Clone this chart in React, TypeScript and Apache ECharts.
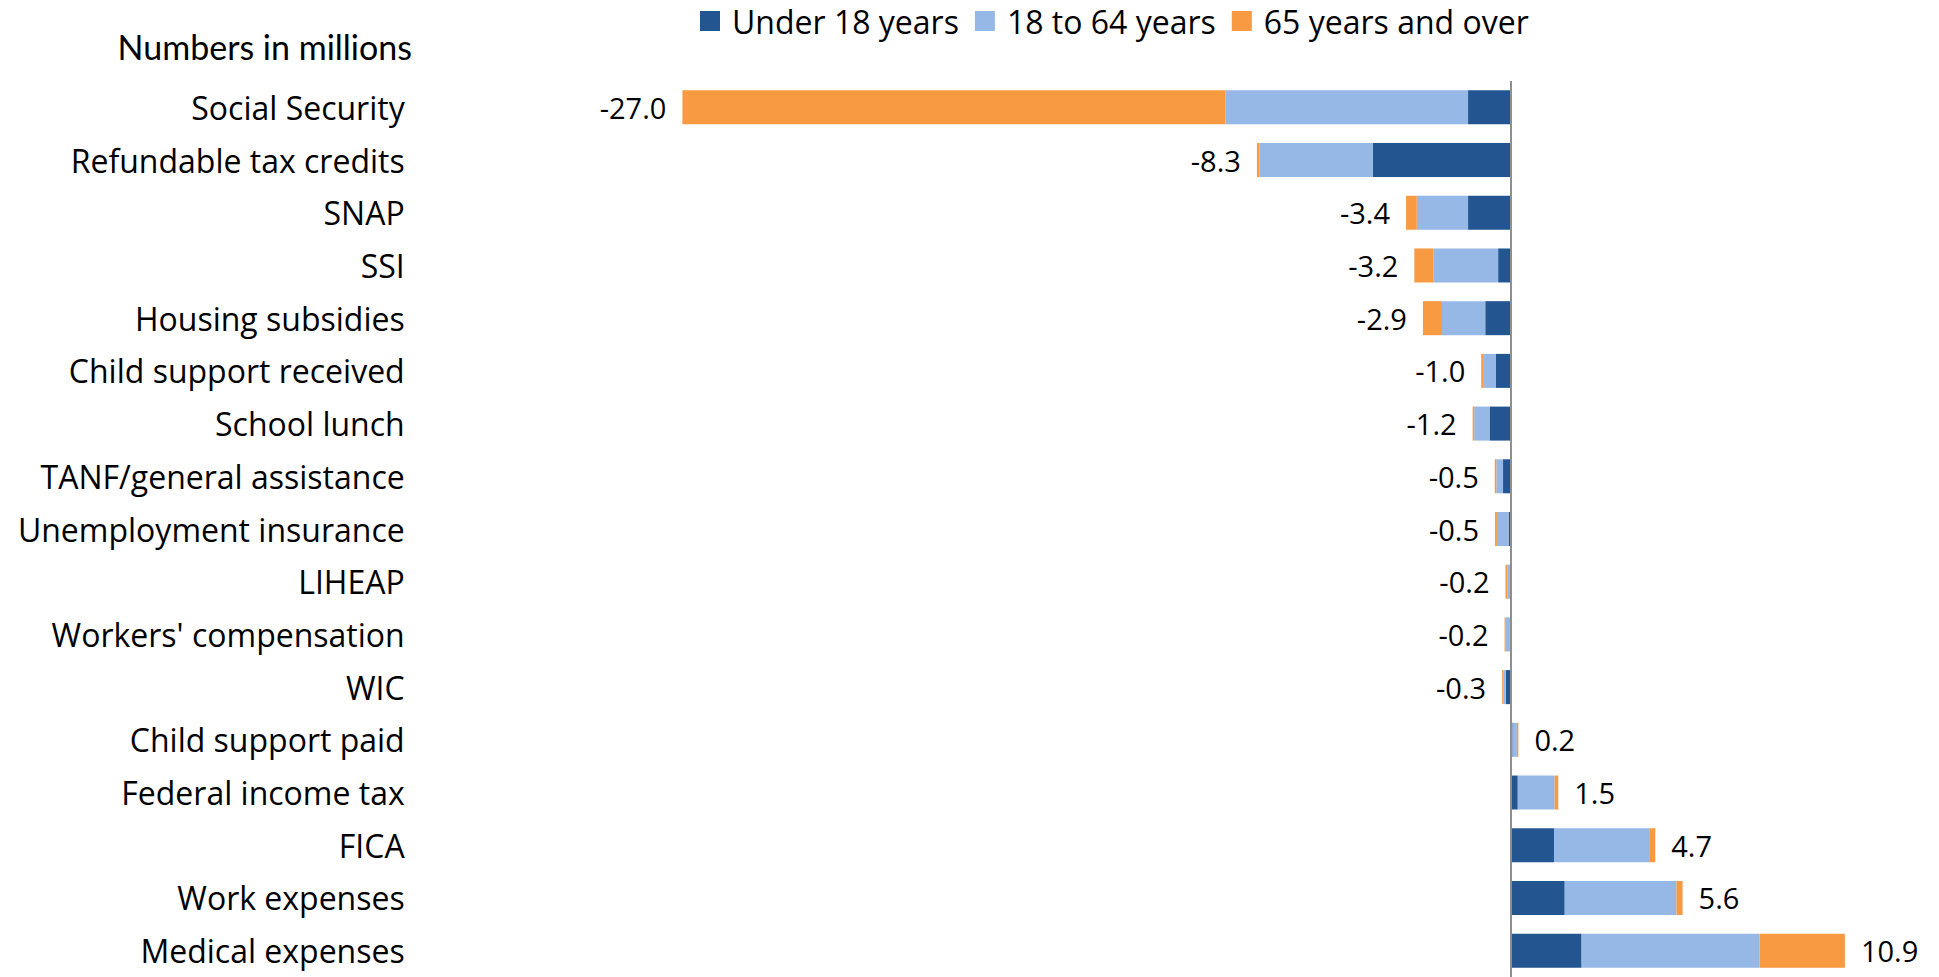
import React, { useEffect, useRef } from "react";
import * as echarts from "echarts";

const categories = [
  "Social Security",
  "Refundable tax credits",
  "SNAP",
  "SSI",
  "Housing subsidies",
  "Child support received",
  "School lunch",
  "TANF/general assistance",
  "Unemployment insurance",
  "LIHEAP",
  "Workers' compensation",
  "WIC",
  "Child support paid",
  "Federal income tax",
  "FICA",
  "Work expenses",
  "Medical expenses",
];

const under18 = [-1.4, -4.5, -1.4, -0.42, -0.84, -0.49, -0.7, -0.26, -0.08, -0.02, -0.01, -0.17, 0.05, 0.22, 1.4, 1.75, 2.3];
const age18to64 = [-7.9, -3.7, -1.67, -2.1, -1.41, -0.42, -0.5, -0.22, -0.38, -0.1, -0.16, -0.08, 0.14, 1.2, 3.1, 3.64, 5.8];
const age65plus = [-17.7, -0.08, -0.35, -0.63, -0.62, -0.06, -0.05, -0.05, -0.06, -0.06, -0.04, -0.04, 0.05, 0.12, 0.2, 0.2, 2.78];
const totals = [-27.0, -8.3, -3.4, -3.2, -2.9, -1.0, -1.2, -0.5, -0.5, -0.2, -0.2, -0.3, 0.2, 1.5, 4.7, 5.6, 10.9];

const seriesNames = ["Under 18 years", "18 to 64 years", "65 years and over"];
const colors = ["#235591", "#95B8E6", "#F79A42"];

const FONT = "'Open Sans', sans-serif";
const TITLE_FONT = "Lato, sans-serif";

export default function App() {
  const ref = useRef<HTMLDivElement>(null);
  useEffect(() => {
    if (!ref.current) return;
    const chart = echarts.init(ref.current, null, { renderer: "svg" });
    const outer = age65plus.map((v, i) => ({
      value: v,
      label: {
        show: true,
        position: totals[i] < 0 ? "left" : "right",
        distance: 16,
        formatter: () => totals[i].toFixed(1),
        color: "#000",
        fontSize: 29,
        fontFamily: FONT,
      },
    }));
    chart.setOption({
      animation: false,
      color: colors,
      textStyle: { fontFamily: FONT },
      legend: {
        data: seriesNames,
        left: 700,
        top: 4,
        itemWidth: 20,
        itemHeight: 20,
        itemGap: 16,
        icon: "rect",
        padding: 0,
        textStyle: {
          fontSize: 32,
          lineHeight: 34,
          color: "#000",
          fontFamily: FONT,
          padding: [0, 0, 0, 7],
        },
      },
      graphic: [
        {
          type: "text",
          x: 412,
          y: 46,
          style: {
            text: "Numbers in millions",
            fontSize: 34,
            fontFamily: TITLE_FONT,
            fill: "#000",
            align: "right",
            verticalAlign: "middle",
          },
        },
      ],
      grid: { left: 651.7, right: 59.7, top: 81, height: 901, containLabel: false },
      xAxis: {
        type: "value",
        min: -28,
        max: 12,
        show: false,
      },
      yAxis: {
        type: "category",
        data: categories,
        inverse: true,
        axisLine: { show: false, onZero: false },
        axisTick: { show: false },
        axisLabel: {
          margin: 247,
          fontSize: 32,
          color: "#000",
          fontFamily: FONT,
        },
      },
      series: [
        {
          name: seriesNames[0],
          type: "bar",
          stack: "total",
          barWidth: 34,
          data: under18,
          markLine: {
            silent: true,
            symbol: ["none", "none"],
            label: { show: false },
            lineStyle: { color: "#8f8f8f", width: 2, type: "solid" },
            data: [{ xAxis: 0 }],
          },
        },
        {
          name: seriesNames[1],
          type: "bar",
          stack: "total",
          barWidth: 34,
          data: age18to64,
        },
        {
          name: seriesNames[2],
          type: "bar",
          stack: "total",
          barWidth: 34,
          data: outer,
        },
      ],
    });
    return () => chart.dispose();
  }, []);
  return (
    <div
      ref={ref}
      style={{ position: "absolute", left: 0, top: 0, width: 1939, height: 977, background: "#fff" }}
    />
  );
}
